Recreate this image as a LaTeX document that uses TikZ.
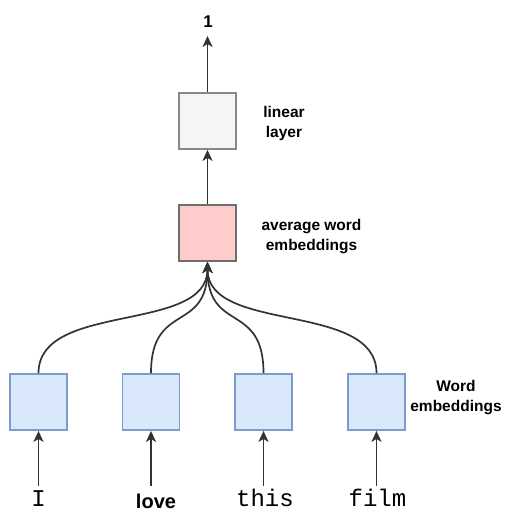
\documentclass[tikz,border=0pt]{standalone}
\usepackage{fontspec}
\setmainfont{Liberation Sans}
\newfontfamily\monofam{Liberation Mono}
\usetikzlibrary{arrows.meta,calc}
\definecolor{bluefill}{HTML}{DAE8FC}
\definecolor{blueline}{HTML}{7C9CCB}
\definecolor{redfill}{HTML}{FFCCCC}
\definecolor{redline}{HTML}{6E6E6E}
\definecolor{grayfill}{HTML}{F5F5F5}
\definecolor{grayline}{HTML}{888888}
\definecolor{edge}{HTML}{333333}
\tikzset{
  box/.style={draw, line width=1.8pt, minimum width=57pt, minimum height=56pt, inner sep=0pt},
  wordbox/.style={box, fill=bluefill, draw=blueline},
  avgbox/.style={box, fill=redfill, draw=redline},
  linbox/.style={box, fill=grayfill, draw=grayline},
  lbl/.style={font=\fontsize{15.5}{20}\selectfont\bfseries, align=center, inner sep=0pt},
  arr/.style={draw=edge, line width=1.7pt, -{Stealth[length=11pt,width=10pt,inset=3pt]}},
  mono/.style={font=\fontsize{24}{24}\selectfont\monofam, anchor=base, inner sep=0pt},
}
\begin{document}
\begin{tikzpicture}[x=1pt,y=-1pt]
\useasboundingbox (0,0) rectangle (504,514);
% boxes
\node[linbox] (lin) at (207.5,121) {};
\node[avgbox] (avg) at (207.5,233) {};
\node[wordbox] (w1) at (38.5,402) {};
\node[wordbox] (w2) at (151,402) {};
\node[wordbox] (w3) at (263.5,402) {};
\node[wordbox] (w4) at (376.5,402) {};
% labels
\node[lbl] (lablin) at (284,123) {linear\\layer};
\node[lbl] (labavg) at (311.5,237) {average word\\embeddings};
\node[lbl] (labw) at (456,398) {Word\\embeddings};
\node[font=\fontsize{17}{17}\selectfont\bfseries, inner sep=0pt] (one) at (208,22) {1};
\coordinate (top) at (207.5,36);
% words
\node[mono] (t1) at (38.5,506) {I};
\node[font=\fontsize{20}{20}\selectfont\bfseries, anchor=base, inner sep=0pt] (t2) at (156,508) {love};
\node[mono] (t3) at (265,506) {this};
\node[mono] (t4) at (377.5,506) {film};
\coordinate (s1) at (38.5,486);
\coordinate (s2) at (151,486);
\coordinate (s3) at (263.5,486);
\coordinate (s4) at (376.5,486);
% connectors
\draw[arr] (lin.north) -- (top);
\draw[arr] (avg.north) -- (lin.south);
\foreach \i in {1,2,3,4}{
  \draw[arr] (s\i) -- (w\i.south);
  \draw[arr] (w\i.north) .. controls ($(w\i.north)+(0,-72)$) and ($(avg.south)+(0,72)$) .. (avg.south);
}
\end{tikzpicture}
\end{document}
